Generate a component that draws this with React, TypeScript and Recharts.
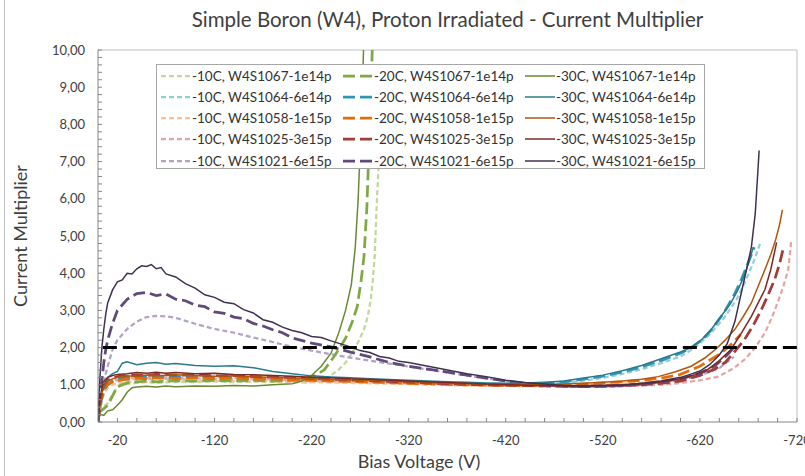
import { LineChart, Line, XAxis, YAxis, ReferenceLine } from 'recharts';

// Bias voltage (V) vs current multiplier
type Pt = [number, number];

const W4S1067_10C: Pt[] = [[0,0.3],[-3,0.35],[-6,0.42],[-10,0.5],[-15,0.75],[-20,0.95],[-30,1.02],[-40,1.05],[-50,1.07],[-60,1.05],[-80,1.08],[-100,1.07],[-120,1.09],[-140,1.07],[-160,1.09],[-180,1.08],[-200,1.07],[-215,1.06],[-228,1.1],[-238,1.22],[-248,1.41],[-255,1.6],[-262,1.87],[-268,2.15],[-274,2.49],[-278,2.85],[-281,3.3],[-283,3.8],[-285,4.45],[-287,5.8],[-289,6.87],[-290.5,8.0]];
const W4S1067_20C: Pt[] = [[0,0.25],[-3,0.3],[-6,0.36],[-10,0.45],[-15,0.7],[-20,0.95],[-30,1.05],[-40,1.08],[-50,1.1],[-60,1.08],[-80,1.11],[-100,1.1],[-120,1.12],[-140,1.1],[-160,1.12],[-180,1.1],[-200,1.12],[-212,1.16],[-224,1.25],[-233,1.4],[-241,1.68],[-248,1.95],[-255,2.25],[-262,2.7],[-267,3.1],[-271,3.8],[-274,4.45],[-277,5.8],[-279,7.3],[-281,8.7],[-282.5,10]];
const W4S1067_30C: Pt[] = [[0,0.12],[-3,0.2],[-6,0.18],[-10,0.3],[-15,0.33],[-20,0.45],[-25,0.6],[-30,0.8],[-35,0.92],[-40,0.94],[-50,0.96],[-60,0.94],[-70,0.97],[-80,0.95],[-100,0.97],[-120,0.96],[-140,0.98],[-160,0.97],[-180,1.0],[-200,1.03],[-210,1.1],[-220,1.25],[-230,1.5],[-240,1.85],[-248,2.4],[-255,3.0],[-261,3.7],[-265,4.7],[-268,6.0],[-270,7.3],[-272,8.7],[-273.5,10]];

const W4S1064_10C: Pt[] = [[0,0],[-3,0.5],[-6,0.8],[-10,0.98],[-15,1.06],[-20,1.1],[-30,1.13],[-40,1.16],[-50,1.14],[-60,1.17],[-80,1.15],[-100,1.17],[-120,1.15],[-140,1.16],[-160,1.13],[-180,1.14],[-200,1.12],[-220,1.11],[-240,1.1],[-260,1.09],[-280,1.07],[-300,1.06],[-320,1.05],[-340,1.03],[-360,1.02],[-380,1.01],[-400,1.0],[-420,0.99],[-440,1.0],[-460,1.02],[-480,1.05],[-500,1.11],[-520,1.19],[-540,1.29],[-560,1.42],[-580,1.58],[-600,1.76],[-615,2.0],[-630,2.35],[-645,2.8],[-658,3.3],[-668,3.85],[-676,4.35],[-682,4.8]];
const W4S1064_20C: Pt[] = [[0,0],[-3,0.55],[-6,0.85],[-10,1.0],[-15,1.1],[-20,1.14],[-30,1.2],[-40,1.22],[-50,1.2],[-60,1.23],[-80,1.21],[-100,1.22],[-120,1.2],[-140,1.21],[-160,1.18],[-180,1.17],[-200,1.15],[-220,1.14],[-240,1.12],[-260,1.11],[-280,1.1],[-300,1.08],[-320,1.07],[-340,1.05],[-360,1.04],[-380,1.03],[-400,1.02],[-420,1.01],[-440,1.02],[-460,1.04],[-480,1.08],[-500,1.15],[-520,1.23],[-540,1.34],[-560,1.48],[-580,1.65],[-600,1.85],[-612,2.02],[-622,2.2],[-632,2.48],[-645,2.95],[-655,3.4],[-663,3.85],[-670,4.3],[-676,4.7]];
const W4S1064_30C: Pt[] = [[0,0],[-3,0.75],[-6,0.93],[-10,1.2],[-15,1.3],[-20,1.36],[-25,1.58],[-30,1.62],[-40,1.54],[-50,1.58],[-60,1.6],[-70,1.55],[-80,1.57],[-100,1.52],[-120,1.5],[-140,1.51],[-160,1.46],[-180,1.36],[-200,1.3],[-220,1.24],[-240,1.21],[-260,1.19],[-280,1.16],[-300,1.14],[-320,1.12],[-340,1.1],[-360,1.08],[-380,1.07],[-400,1.05],[-420,1.04],[-440,1.05],[-460,1.07],[-480,1.1],[-500,1.18],[-520,1.26],[-540,1.38],[-560,1.52],[-580,1.7],[-600,1.88],[-611,2.0],[-622,2.22],[-632,2.5],[-642,2.85],[-652,3.2],[-660,3.6],[-666,3.95],[-671,4.35],[-675,4.7]];

const W4S1058_10C: Pt[] = [[0,0],[-3,0.45],[-6,0.75],[-10,0.92],[-15,1.0],[-20,1.04],[-30,1.07],[-40,1.1],[-50,1.08],[-60,1.11],[-80,1.1],[-100,1.12],[-120,1.1],[-140,1.11],[-160,1.09],[-180,1.1],[-200,1.08],[-220,1.07],[-240,1.06],[-260,1.05],[-280,1.04],[-300,1.03],[-320,1.02],[-340,1.0],[-360,0.99],[-380,0.98],[-400,0.97],[-420,0.97],[-440,0.96],[-460,0.97],[-480,0.98],[-500,0.99],[-520,1.01],[-540,1.03],[-560,1.06],[-580,1.1],[-600,1.15],[-620,1.32],[-640,1.58]];
const W4S1058_20C: Pt[] = [[0,0],[-3,0.6],[-6,0.9],[-10,1.02],[-15,1.08],[-20,1.12],[-30,1.15],[-40,1.18],[-50,1.16],[-60,1.19],[-80,1.17],[-100,1.19],[-120,1.16],[-140,1.18],[-160,1.15],[-180,1.16],[-200,1.13],[-220,1.12],[-240,1.1],[-260,1.09],[-280,1.07],[-300,1.06],[-320,1.04],[-340,1.03],[-360,1.01],[-380,1.0],[-400,0.99],[-420,0.98],[-440,0.98],[-460,0.99],[-480,1.0],[-500,1.02],[-520,1.05],[-540,1.08],[-560,1.12],[-580,1.18],[-600,1.28],[-620,1.5],[-640,1.82],[-652,2.08],[-662,2.35]];
const W4S1058_30C: Pt[] = [[0,0],[-3,0.7],[-6,0.95],[-10,1.1],[-15,1.16],[-20,1.2],[-30,1.24],[-40,1.22],[-50,1.26],[-60,1.24],[-80,1.27],[-100,1.25],[-120,1.23],[-140,1.24],[-160,1.21],[-180,1.2],[-200,1.18],[-220,1.16],[-240,1.15],[-260,1.13],[-280,1.12],[-300,1.1],[-320,1.08],[-340,1.06],[-360,1.04],[-380,1.03],[-400,1.02],[-420,1.0],[-440,1.0],[-460,1.01],[-480,1.02],[-500,1.04],[-520,1.07],[-540,1.1],[-560,1.15],[-577,1.22],[-595,1.35],[-611,1.5],[-625,1.72],[-636,1.95],[-646,2.2],[-656,2.49],[-665,2.85],[-673,3.2],[-680,3.65],[-687,4.1],[-693,4.5],[-698,4.9],[-702,5.3],[-705,5.7]];

const W4S1025_10C: Pt[] = [[0,0],[-3,0.55],[-6,0.88],[-10,1.04],[-15,1.1],[-20,1.14],[-30,1.17],[-40,1.2],[-50,1.18],[-60,1.21],[-80,1.19],[-100,1.2],[-120,1.18],[-140,1.19],[-160,1.16],[-180,1.15],[-200,1.13],[-220,1.12],[-240,1.1],[-260,1.09],[-280,1.07],[-300,1.06],[-320,1.04],[-340,1.03],[-360,1.01],[-380,1.0],[-400,0.99],[-420,0.98],[-440,0.97],[-460,0.96],[-480,0.95],[-500,0.95],[-520,0.95],[-540,0.96],[-560,0.98],[-580,1.0],[-600,1.05],[-620,1.12],[-639,1.22],[-655,1.45],[-666,1.68],[-677,2.0],[-687,2.4],[-694,2.8],[-700,3.2],[-706,3.65],[-711,4.1],[-714,4.85]];
const W4S1025_20C: Pt[] = [[0,0],[-2,0.5],[-5,0.95],[-10,1.12],[-15,1.18],[-20,1.22],[-30,1.25],[-40,1.27],[-50,1.25],[-60,1.28],[-80,1.26],[-100,1.27],[-120,1.24],[-140,1.25],[-160,1.22],[-180,1.21],[-200,1.19],[-220,1.17],[-240,1.15],[-260,1.13],[-280,1.11],[-300,1.09],[-320,1.07],[-340,1.05],[-360,1.03],[-380,1.01],[-400,1.0],[-420,0.99],[-440,0.98],[-460,0.97],[-480,0.96],[-500,0.96],[-520,0.97],[-540,0.98],[-560,1.0],[-580,1.04],[-600,1.1],[-620,1.25],[-635,1.42],[-646,1.6],[-656,1.9],[-666,2.22],[-675,2.6],[-683,3.0],[-690,3.4],[-697,3.83],[-702,4.25],[-706,4.68]];
const W4S1025_30C: Pt[] = [[0,0],[-2,0.6],[-5,1.06],[-10,1.2],[-15,1.25],[-20,1.28],[-30,1.3],[-40,1.33],[-50,1.31],[-60,1.34],[-70,1.31],[-80,1.33],[-100,1.3],[-120,1.31],[-140,1.28],[-160,1.27],[-180,1.25],[-200,1.23],[-220,1.2],[-240,1.19],[-260,1.16],[-280,1.15],[-300,1.12],[-320,1.1],[-340,1.08],[-360,1.06],[-380,1.04],[-400,1.02],[-420,1.0],[-440,0.99],[-460,0.98],[-480,0.97],[-500,0.98],[-520,0.98],[-540,1.0],[-560,1.03],[-580,1.08],[-600,1.16],[-615,1.27],[-628,1.41],[-640,1.65],[-652,1.95],[-663,2.4],[-673,2.84],[-680,3.2],[-687,3.56],[-693,4.1],[-699,4.83]];

const W4S1021_10C: Pt[] = [[0,0],[-2,0.35],[-4,0.7],[-6,1.0],[-8,1.3],[-10,1.5],[-15,1.95],[-20,2.2],[-30,2.5],[-40,2.7],[-50,2.82],[-60,2.85],[-70,2.84],[-80,2.8],[-90,2.72],[-100,2.64],[-120,2.5],[-140,2.4],[-160,2.27],[-180,2.15],[-200,2.02],[-220,1.92],[-240,1.82],[-260,1.73],[-280,1.65],[-300,1.57],[-320,1.49],[-340,1.41],[-360,1.33],[-380,1.25],[-400,1.17],[-420,1.1],[-440,1.04],[-460,1.0],[-480,0.97],[-500,0.95],[-520,0.95],[-540,0.97],[-560,1.0],[-580,1.05],[-600,1.12],[-620,1.25],[-640,1.45],[-655,1.75]];
const W4S1021_20C: Pt[] = [[0,0],[-2,0.6],[-4,1.1],[-6,1.6],[-8,1.95],[-10,2.2],[-15,2.65],[-20,3.0],[-30,3.3],[-40,3.45],[-50,3.48],[-60,3.4],[-70,3.44],[-80,3.3],[-90,3.26],[-100,3.14],[-110,3.1],[-120,2.96],[-130,2.92],[-140,2.82],[-150,2.78],[-160,2.65],[-170,2.58],[-180,2.48],[-190,2.4],[-200,2.26],[-220,2.12],[-240,2.02],[-260,1.88],[-280,1.75],[-300,1.6],[-320,1.5],[-340,1.42],[-360,1.34],[-380,1.26],[-400,1.18],[-420,1.1],[-440,1.04],[-460,1.0],[-480,0.97],[-500,0.95],[-520,0.96],[-540,0.98],[-560,1.02],[-580,1.08],[-600,1.16],[-620,1.3],[-635,1.5],[-648,1.8],[-655,2.0]];
const W4S1021_30C: Pt[] = [[0,0],[-2,1.2],[-4,2.0],[-6,2.5],[-8,2.9],[-10,3.2],[-15,3.55],[-20,3.77],[-25,3.82],[-30,4.0],[-35,3.98],[-40,4.12],[-45,4.2],[-50,4.18],[-55,4.23],[-60,4.12],[-65,4.15],[-70,3.98],[-80,3.9],[-90,3.72],[-100,3.6],[-110,3.42],[-120,3.35],[-130,3.22],[-140,3.18],[-150,3.02],[-160,2.93],[-170,2.75],[-180,2.68],[-190,2.55],[-200,2.46],[-210,2.4],[-220,2.3],[-230,2.27],[-240,2.18],[-250,2.1],[-260,2.02],[-270,1.92],[-280,1.87],[-290,1.76],[-300,1.72],[-310,1.63],[-320,1.6],[-340,1.5],[-360,1.4],[-380,1.3],[-400,1.22],[-420,1.12],[-440,1.06],[-460,1.02],[-480,0.98],[-500,0.96],[-520,0.98],[-540,0.99],[-560,1.04],[-580,1.1],[-600,1.2],[-610,1.28],[-620,1.37],[-630,1.54],[-640,1.8],[-648,2.1],[-656,2.7],[-662,3.4],[-668,4.1],[-673,4.7],[-677,5.6],[-681,7.3]];

const THRESHOLD: Pt[] = [[-5, 2], [-720, 2]];

const SAMPLES = ['W4S1067-1e14p', 'W4S1064-6e14p', 'W4S1058-1e15p', 'W4S1025-3e15p', 'W4S1021-6e15p'];
const TEMPS = ['-10C', '-20C', '-30C'];
const X_LABELS = [-20, -120, -220, -320, -420, -520, -620, -720];
const X_TICKS = Array.from({ length: 36 }, (_, i) => -20 * (i + 1));
const Y_TICKS = Array.from({ length: 51 }, (_, i) => Math.round(i * 2) / 10);

const COLORS = [
  ['#c3d69b', '#80a846', '#688a34'],
  ['#93cddd', '#2f97b3', '#2a7a8c'],
  ['#fac090', '#e46c0a', '#b0560e'],
  ['#e6a4a3', '#a33b39', '#7a2a26'],
  ['#b3a2c7', '#604a7b', '#403152'],
];
const STYLES = [
  { dash: '5 3', width: 2.25 },
  { dash: '12 5', width: 2.75 },
  { dash: undefined, width: 1.5 },
];

const DATA: Pt[][][] = [
  [W4S1067_10C, W4S1067_20C, W4S1067_30C],
  [W4S1064_10C, W4S1064_20C, W4S1064_30C],
  [W4S1058_10C, W4S1058_20C, W4S1058_30C],
  [W4S1025_10C, W4S1025_20C, W4S1025_30C],
  [W4S1021_10C, W4S1021_20C, W4S1021_30C],
];

const FONT = 'Lato, "Open Sans", sans-serif';
const AXIS = '#868686';
const TEXT = '#404040';

const toRows = (pts: Pt[]) => pts.map(([v, m]) => ({ v, m }));

const XTick = ({ x, y, payload }: any) => {
  const v = payload.value;
  return (
    <g>
      <line x1={x} x2={x} y1={y} y2={y - 4} stroke={AXIS} />
      {X_LABELS.includes(v) && (
        <text x={x} y={y + 23} textAnchor="middle" fontSize={13} fill={TEXT} fontFamily={FONT}>
          {v}
        </text>
      )}
    </g>
  );
};

const YTick = ({ x, y, payload }: any) => {
  const v = payload.value;
  const major = Math.abs(v - Math.round(v)) < 1e-6;
  return (
    <g>
      <line x1={x} x2={x + 4} y1={y} y2={y} stroke={AXIS} />
      {major && (
        <text x={x - 13} y={y + 4.5} textAnchor="end" fontSize={13} fill={TEXT} fontFamily={FONT}>
          {v.toFixed(2).replace('.', ',')}
        </text>
      )}
    </g>
  );
};

const LegendBox = () => (
  <div
    style={{
      position: 'absolute', left: 156, top: 64, width: 549, height: 105,
      background: '#fff', border: '1px solid #a6a6a6', boxSizing: 'border-box',
      fontFamily: FONT, fontSize: 13.5, color: '#333',
    }}
  >
    {SAMPLES.map((s, r) =>
      TEMPS.map((t, c) => (
        <div
          key={s + t}
          style={{ position: 'absolute', left: 3 + c * 182, top: 0.5 + r * 21.3, height: 20, display: 'flex', alignItems: 'center', whiteSpace: 'nowrap' }}
        >
          <svg width={32} height={20}>
            <line x1={1} x2={31} y1={10} y2={10} stroke={COLORS[r][c]} strokeWidth={STYLES[c].width} strokeDasharray={STYLES[c].dash} />
          </svg>
          <span>{`${t}, ${s}`}</span>
        </div>
      ))
    )}
  </div>
);

export default function App() {
  return (
    <div style={{ position: 'relative', width: 805, height: 476, background: '#fff', overflow: 'hidden' }}>
      <style>{'body{margin:0}'}</style>
      <div style={{ position: 'absolute', left: 4, top: 0, width: 1, height: 476, background: '#bfbfbf' }} />
      <div style={{ position: 'absolute', top: 7, left: 0, width: 895, textAlign: 'center', fontFamily: FONT, fontSize: 20.5, color: TEXT }}>
        Simple Boron (W4), Proton Irradiated - Current Multiplier
      </div>
      <LineChart width={805} height={476} margin={{ top: 50, right: 8, bottom: 0, left: 0 }}>
        <XAxis
          dataKey="v" type="number" domain={[-720, 0]} reversed allowDataOverflow
          ticks={X_TICKS} interval={0} tickSize={0} tickMargin={0}
          tick={<XTick />} stroke={AXIS} height={54}
        />
        <YAxis
          type="number" domain={[0, 10]} allowDataOverflow ticks={Y_TICKS} interval={0}
          tickSize={0} tickMargin={0} tick={<YTick />} stroke={AXIS} width={98}
        />
        <ReferenceLine y={10} stroke="#bfbfbf" />
        <ReferenceLine x={-720} stroke="#bfbfbf" />
        {[0, 1, 2].map((c) =>
          DATA.map((row, r) => (
            <Line
              key={`${r}-${c}`}
              data={toRows(row[c])}
              dataKey="m"
              type="linear"
              stroke={COLORS[r][c]}
              strokeWidth={STYLES[c].width}
              strokeDasharray={STYLES[c].dash}
              dot={false}
              activeDot={false}
              isAnimationActive={false}
            />
          ))
        )}
        <Line data={toRows(THRESHOLD)} dataKey="m" stroke="#000" strokeWidth={3} strokeDasharray="14 6" dot={false} activeDot={false} isAnimationActive={false} />
      </LineChart>
      <LegendBox />
      <div style={{ position: 'absolute', top: 450, left: 0, width: 838, textAlign: 'center', fontFamily: FONT, fontSize: 18, color: TEXT }}>
        Bias Voltage (V)
      </div>
      <div
        style={{
          position: 'absolute', left: 20, top: 236, transform: 'translate(-50%, -50%) rotate(-90deg)',
          whiteSpace: 'nowrap', fontFamily: FONT, fontSize: 18, color: TEXT,
        }}
      >
        Current Multiplier
      </div>
    </div>
  );
}
